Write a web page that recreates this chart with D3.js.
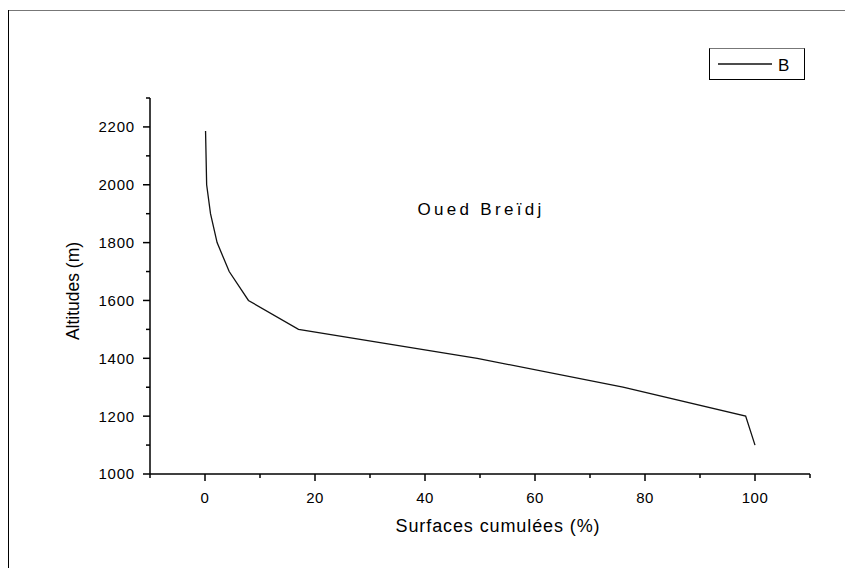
<!DOCTYPE html>
<html>
<head>
<meta charset="utf-8">
<script src="https://cdn.jsdelivr.net/npm/d3@7"></script>
<style>
  html, body { margin: 0; padding: 0; background: #fff; }
  svg { display: block; }
  text { font-family: "Liberation Sans", Arial, sans-serif; fill: #000; }
</style>
</head>
<body>
<svg id="chart" width="845" height="568"></svg>
<script>
// ---- data ----
const surfaces  = [0.1, 0.3, 1.0, 2.2, 4.4, 7.9, 17.0, 49.5, 76.0, 98.3, 100.0];
const altitudes = [2186, 2000, 1900, 1800, 1700, 1600, 1500, 1400, 1300, 1200, 1100];
const xTickValues = [0, 20, 40, 60, 80, 100];
const yTickValues = [1000, 1200, 1400, 1600, 1800, 2000, 2200];
const seriesName = "B";
const annotation = "Oued Breïdj";
const xTitle = "Surfaces cumulées (%)";
const yTitle = "Altitudes (m)";

const svg = d3.select("#chart");

// outer frame (extends past right/bottom edges)
svg.append("line").attr("x1", 8.5).attr("x2", 845).attr("y1", 10.5).attr("y2", 10.5)
  .attr("stroke", "#777").attr("stroke-width", 1.2);
svg.append("line").attr("x1", 8.5).attr("x2", 8.5).attr("y1", 10).attr("y2", 568)
  .attr("stroke", "#000").attr("stroke-width", 1);

const x = d3.scaleLinear().domain([-10, 110]).range([150, 810]);
const y = d3.scaleLinear().domain([1000, 2300]).range([474, 98]);

// x axis
const gx = svg.append("g").attr("transform", `translate(0,${y(1000)})`);
gx.append("line").attr("x1", x(-10)).attr("x2", x(110)).attr("stroke", "#000").attr("stroke-width", 1.5);
gx.selectAll(".minor").data(d3.range(-10, 111, 10)).join("line")
  .attr("x1", d => x(d)).attr("x2", d => x(d)).attr("y1", 0)
  .attr("y2", d => xTickValues.includes(d) ? 7 : 4)
  .attr("stroke", "#000").attr("stroke-width", 1.5);
gx.selectAll(".lbl").data(xTickValues).join("text")
  .attr("x", d => x(d)).attr("y", 29)
  .attr("text-anchor", "middle").attr("font-size", 15).attr("letter-spacing", 0.5)
  .text(d => d);

// y axis
const gy = svg.append("g").attr("transform", `translate(${x(-10)},0)`);
gy.append("line").attr("y1", y(1000)).attr("y2", y(2300)).attr("stroke", "#000").attr("stroke-width", 1.5);
gy.selectAll(".minor").data(d3.range(1000, 2301, 100)).join("line")
  .attr("y1", d => y(d)).attr("y2", d => y(d)).attr("x1", 0)
  .attr("x2", d => yTickValues.includes(d) ? -7 : -4)
  .attr("stroke", "#000").attr("stroke-width", 1.5);
gy.selectAll(".lbl").data(yTickValues).join("text")
  .attr("x", -15).attr("y", d => y(d)).attr("dy", "0.36em")
  .attr("text-anchor", "end").attr("font-size", 15).attr("letter-spacing", 0.8)
  .text(d => d);

// axis titles
svg.append("text").attr("x", 498).attr("y", 532).attr("text-anchor", "middle")
  .attr("font-size", 18).attr("letter-spacing", 0.9).text(xTitle);
svg.append("text").attr("transform", `translate(79,291) rotate(-90)`).attr("text-anchor", "middle")
  .attr("font-size", 17.5).text(yTitle);

// curve
const pts = surfaces.map((s, i) => [s, altitudes[i]]);
svg.append("path").datum(pts)
  .attr("fill", "none").attr("stroke", "#111").attr("stroke-width", 1.3)
  .attr("d", d3.line().x(d => x(d[0])).y(d => y(d[1])));

// annotation
svg.append("text").attr("x", 481).attr("y", 215).attr("text-anchor", "middle")
  .attr("font-size", 17).attr("letter-spacing", 3.3).text(annotation);

// legend
const lg = svg.append("g");
lg.append("rect").attr("x", 709.5).attr("y", 48.5).attr("width", 95).attr("height", 31)
  .attr("fill", "#fff").attr("stroke", "#000").attr("stroke-width", 1);
lg.append("line").attr("x1", 709.5).attr("x2", 804.5).attr("y1", 48.5).attr("y2", 48.5)
  .attr("stroke", "#777").attr("stroke-width", 1.2);
lg.append("line").attr("x1", 718).attr("x2", 772).attr("y1", 64).attr("y2", 64)
  .attr("stroke", "#111").attr("stroke-width", 1.3);
lg.append("text").attr("x", 778).attr("y", 70.5).attr("font-size", 17).text(seriesName);
</script>
</body>
</html>
